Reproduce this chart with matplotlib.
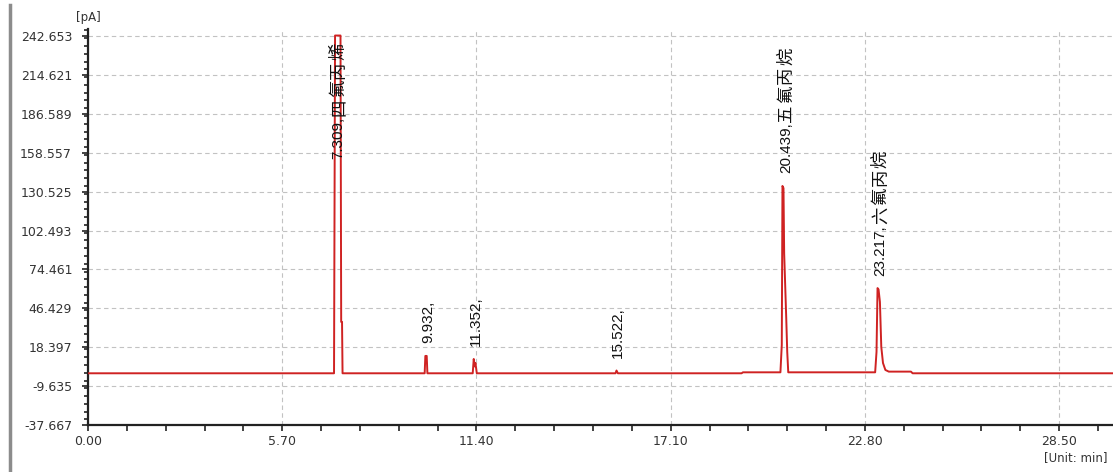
import matplotlib
matplotlib.use('Agg')
import matplotlib.pyplot as plt
from matplotlib.ticker import FixedLocator, MultipleLocator

# trace vertices (min, pA)
times = [0.00, 7.22, 7.25, 7.41, 7.43, 7.455, 7.47,
         9.88, 9.90, 9.94, 9.96,
         11.29, 11.32, 11.35, 11.37, 11.41,
         15.48, 15.51, 15.55,
         19.18, 19.22, 20.32, 20.36, 20.38, 20.41, 20.43, 20.49, 20.52, 20.55,
         23.10, 23.14, 23.17, 23.20, 23.24, 23.28, 23.33, 23.40, 23.50,
         24.15, 24.20, 30.10]
signal = [-0.4, -0.4, 243.0, 243.0, 36.6, 36.6, -0.4,
          -0.4, 12.1, 12.1, -0.4,
          -0.4, 9.9, 4.5, 7.0, -0.4,
          -0.4, 1.6, -0.4,
          -0.4, 0.3, 0.3, 20.0, 134.6, 133.0, 86.0, 40.0, 15.0, 0.3,
          0.3, 15.0, 61.0, 60.0, 51.0, 18.6, 7.0, 2.0, 0.8,
          0.8, -0.4, -0.4]

peak_times = [7.309, 9.932, 11.352, 15.522, 20.439, 23.217]
peak_heights = [243.0, 12.1, 9.9, 1.6, 134.6, 61.0]
peak_numbers = ["7.309,", "9.932,", "11.352,", "15.522,", "20.439,", "23.217,"]
peak_names = ["四氟丙烯", "", "", "", "五氟丙烷", "六氟丙烷"]

y_ticks = [-37.667, -9.635, 18.397, 46.429, 74.461, 102.493,
           130.525, 158.557, 186.589, 214.621, 242.653]
x_ticks = [0.00, 5.70, 11.40, 17.10, 22.80, 28.50]

num_font = ['Liberation Sans', 'DejaVu Sans']
cjk_font = ['Noto Sans CJK SC', 'DejaVu Sans']
DPI = 100
CJK_PITCH = 13.6  # pt between CJK glyph centres

fig = plt.figure(figsize=(11.13, 4.72), dpi=DPI)
ax = fig.add_axes([88 / 1113, 1 - 425 / 472, 1 - 88 / 1113, (425 - 29) / 472])

ax.plot(times, signal, color='#cf2222', lw=1.4, zorder=3)

ax.set_xlim(0, 30.08)
ax.set_ylim(-37.667, 247.7)

ax.yaxis.set_major_locator(FixedLocator(y_ticks))
ax.yaxis.set_minor_locator(MultipleLocator(28.032 / 5))
ax.set_yticklabels([f"{v:.3f}" for v in y_ticks])
ax.xaxis.set_major_locator(FixedLocator(x_ticks))
ax.xaxis.set_minor_locator(MultipleLocator(1.14))
ax.set_xticklabels([f"{v:.2f}" for v in x_ticks])

ax.tick_params(which='both', width=1.2, color='#222222',
               labelsize=9, labelcolor='#333333')
ax.tick_params(axis='y', which='major', length=4.5, pad=7)
ax.tick_params(axis='y', which='minor', length=3)
ax.tick_params(axis='x', which='both', length=4.5, pad=2.5)

ax.grid(True, which='major', color='#c2c2c2', linestyle=(0, (4, 3)), lw=0.8)
ax.set_axisbelow(True)

for s in ['top', 'right']:
    ax.spines[s].set_visible(False)
for s in ['left', 'bottom']:
    ax.spines[s].set_color('#222222')
    ax.spines[s].set_linewidth(1.6)

renderer = fig.canvas.get_renderer()


def length_pt(txt):
    # rotated text: its height on screen is the run length
    bb = txt.get_window_extent(renderer=renderer)
    return bb.height * 72 / DPI


def put(s, t, y, dy, va, fam, size):
    return ax.annotate(s, xy=(t, y), xytext=(1, dy), textcoords='offset points',
                       rotation=90, ha='center', va=va, fontsize=size,
                       family=fam, color='#111111', zorder=4)


# peak labels, rotated like the instrument software
for t, h, num, name in zip(peak_times, peak_heights, peak_numbers, peak_names):
    n = len(name)
    if h > 240:
        # clipped peak: label hangs from the top gridline
        for i, ch in enumerate(name):
            put(ch, t, 242.653, -4 - CJK_PITCH * (n - i - 0.5), 'center', cjk_font, 12.5)
        put(num, t, 242.653, -4 - CJK_PITCH * n, 'top', num_font, 11)
    else:
        tn = put(num, t, h, 9, 'bottom', num_font, 11)
        base = 9 + length_pt(tn)
        for i, ch in enumerate(name):
            put(ch, t, h, base + CJK_PITCH * (i + 0.5), 'center', cjk_font, 12.5)

fig.text(88 / 1113, 1 - 18 / 472, "[pA]", ha='center', va='center',
         fontsize=8.5, color='#333333')
fig.text(1108 / 1113, 1 - 458 / 472, "[Unit: min]", ha='right', va='center',
         fontsize=8.5, color='#333333')

# grey window border on the left
fig.add_artist(plt.Line2D([10 / 1113, 10 / 1113], [0, 1 - 5 / 472],
                          transform=fig.transFigure, color='#8c8c8c', lw=2.5))

fig.savefig('out.png', dpi=DPI)
